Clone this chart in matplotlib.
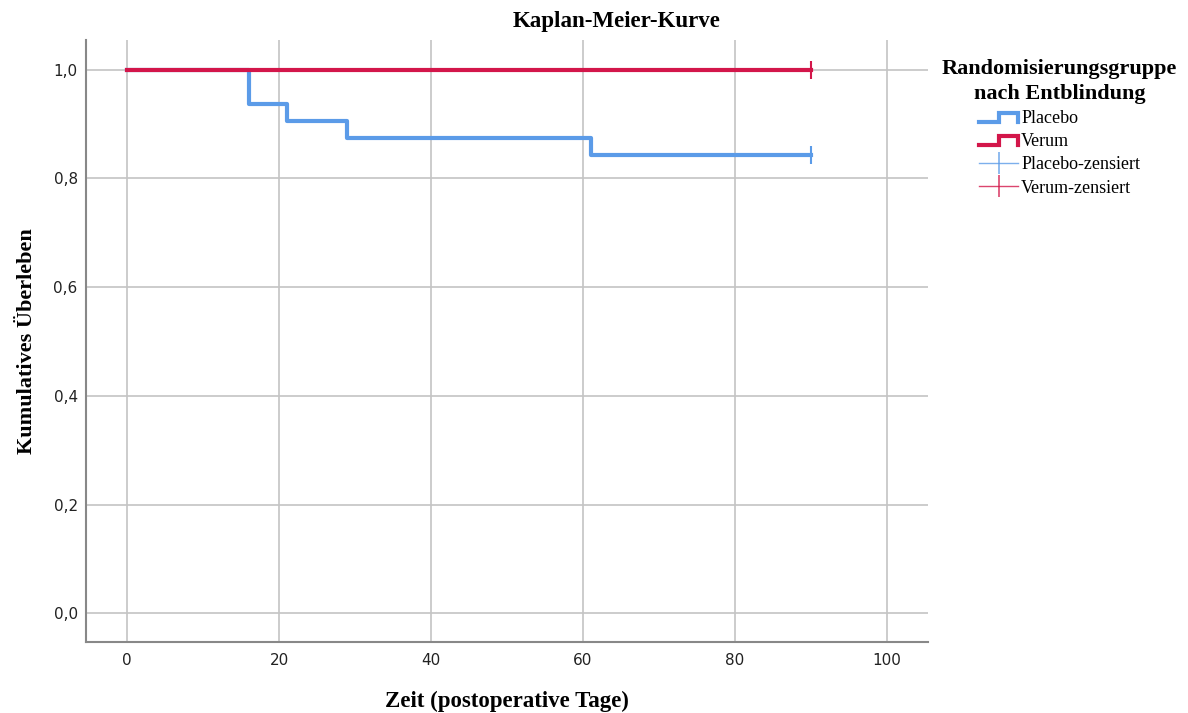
import matplotlib.pyplot as plt
from matplotlib.lines import Line2D
from matplotlib.legend_handler import HandlerBase
from matplotlib.ticker import FuncFormatter

# data: Kaplan-Meier step values
placebo_t = [0, 16, 21, 29, 61, 90]
placebo_s = [1.0, 0.9375, 0.90625, 0.875, 0.84375, 0.84375]
verum_t = [0, 90]
verum_s = [1.0, 1.0]
placebo_cens_t = [90]
placebo_cens_s = [0.84375]
verum_cens_t = [90]
verum_cens_s = [1.0]

blue = '#5b9be8'
red = '#d3164a'
serif = 'Liberation Serif'


class StepHandler(HandlerBase):
    def create_artists(self, legend, orig, xd, yd, w, h, fontsize, trans):
        xs = [xd, xd + w * 0.5, xd + w * 0.5, xd + w, xd + w]
        ys = [yd + h * 0.1, yd + h * 0.1, yd + h * 0.8, yd + h * 0.8, yd + h * 0.1]
        ln = Line2D(xs, ys, color=orig.get_color(), lw=orig.get_linewidth(),
                    solid_joinstyle='miter', transform=trans)
        return [ln]


fig = plt.figure(figsize=(11.88, 7.13), dpi=100)
ax = fig.add_axes([0.0724, 0.0996, 0.7088, 0.8444])

ax.step(placebo_t, placebo_s, where='post', color=blue, lw=3)
ax.step(verum_t, verum_s, where='post', color=red, lw=3)
ax.plot(placebo_cens_t, placebo_cens_s, ls='none', marker='|', ms=13, mew=1.5, color=blue)
ax.plot(verum_cens_t, verum_cens_s, ls='none', marker='|', ms=13, mew=1.5, color=red)

ax.set_xlim(-5.4, 105.4)
ax.set_ylim(-0.053, 1.055)
ax.set_xticks([0, 20, 40, 60, 80, 100])
ax.set_yticks([0, 0.2, 0.4, 0.6, 0.8, 1.0])
ax.yaxis.set_major_formatter(FuncFormatter(lambda v, p: f'{v:.1f}'.replace('.', ',')))
ax.grid(True, color='#c4c4c4', lw=1.2)
ax.set_axisbelow(True)
for s in ['top', 'right']:
    ax.spines[s].set_visible(False)
for s in ['left', 'bottom']:
    ax.spines[s].set_color('#888888')
    ax.spines[s].set_linewidth(1.5)
ax.tick_params(length=0, labelsize=11, colors='#222222')
ax.tick_params(axis='x', pad=8)
ax.tick_params(axis='y', pad=6)

fig.text(617 / 1188, 1 - 21 / 713, 'Kaplan-Meier-Kurve', fontfamily=serif, fontweight='bold',
         fontsize=16.5, ha='center', va='center')
ax.set_xlabel('Zeit (postoperative Tage)', fontfamily=serif, fontweight='bold', fontsize=16.5, labelpad=16)
ax.set_ylabel('Kumulatives Überleben', fontfamily=serif, fontweight='bold', fontsize=16, labelpad=12)

handles = [
    Line2D([], [], color=blue, lw=3),
    Line2D([], [], color=red, lw=3),
    Line2D([], [], color=blue, lw=1, alpha=0.8, marker='|', ms=16, mew=1.2),
    Line2D([], [], color=red, lw=1, alpha=0.8, marker='|', ms=16, mew=1.2),
]
labels = ['Placebo', 'Verum', 'Placebo-zensiert', 'Verum-zensiert']
leg = fig.legend(handles, labels, loc='upper left', bbox_to_anchor=(0.779, 0.94),
                 frameon=False, title='Randomisierungsgruppe\nnach Entblindung',
                 prop={'family': serif, 'size': 13}, handlelength=2.2, handletextpad=0.15,
                 labelspacing=0.35,
                 handler_map={handles[0]: StepHandler(), handles[1]: StepHandler()})
leg.get_title().set_fontfamily(serif)
leg.get_title().set_fontweight('bold')
leg.get_title().set_fontsize(16)
leg.get_title().set_multialignment('center')
leg.get_title().set_linespacing(1.3)

fig.savefig('out.png', dpi=100)
